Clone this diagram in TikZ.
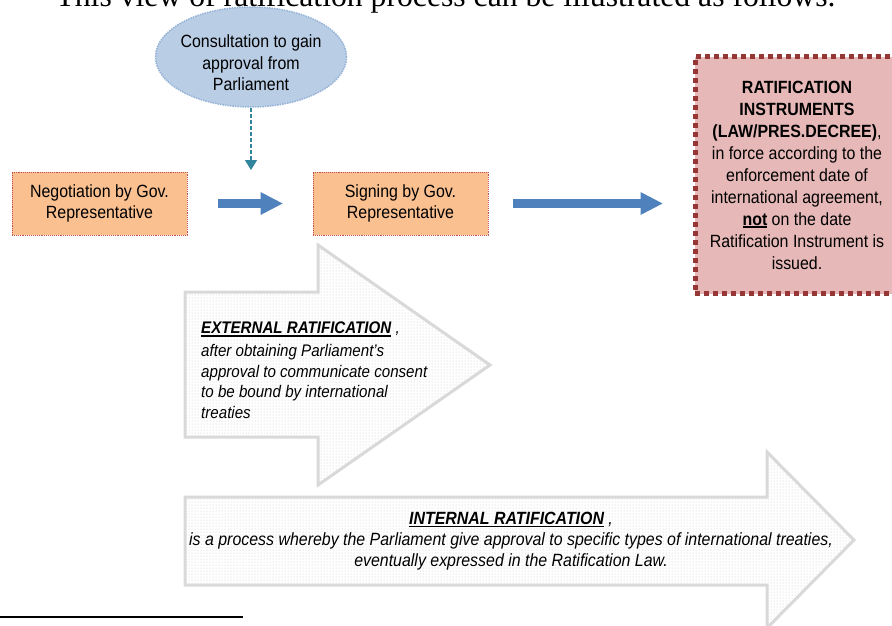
\documentclass[tikz,border=0pt]{standalone}
\usepackage{fontspec}
\setmainfont{Liberation Sans}[FakeStretch=0.9]
\newfontfamily\titlefont{Liberation Serif}
\usetikzlibrary{shapes, arrows.meta, patterns}

\newcommand{\undl}[1]{\leavevmode\setbox0=\hbox{#1}\rlap{\rule[-2.6pt]{\wd0}{1.3pt}}\box0\relax}

\definecolor{consultblue}{HTML}{B9CDE5}
\definecolor{consultedge}{HTML}{95B3D7}
\definecolor{boxorange}{HTML}{FAC090}
\definecolor{boxred}{HTML}{C0504D}
\definecolor{ratiffill}{HTML}{E6B9B8}
\definecolor{ratifedge}{HTML}{953735}
\definecolor{flowblue}{HTML}{4F81BD}
\definecolor{approvalteal}{HTML}{31859C}
\definecolor{arrowgray}{HTML}{D9D9D9}

\tikzstyle{stepbox} = [rectangle, draw=boxred, densely dotted, line width=0.9pt, fill=boxorange, minimum width=175pt, minimum height=63pt, align=center, font=\fontsize{17.7}{21.5}\selectfont]
\tikzstyle{flow} = [draw=flowblue, line width=9pt, -{Triangle[width=23pt,length=22pt,line width=0pt]}]
\tikzstyle{approvalline} = [draw=approvalteal, line width=1.2pt, dash pattern=on 4pt off 2pt, -{Triangle[width=12pt,length=10pt]}]
\tikzstyle{bigarrow} = [draw=arrowgray, line width=3pt, line join=miter, preaction={fill=white}, pattern=dots, pattern color=black!22]

\begin{document}
\begin{tikzpicture}[x=1pt, y=-1pt]
		\useasboundingbox (0,0) rectangle (892,625);
		\clip (0,0) rectangle (892,625);

		\node[anchor=base, font=\titlefont\fontsize{31.7}{36}\selectfont] (title) at (445.5,6) {This view of ratification process can be illustrated as follows.};

		% ratification paths
		\draw[bigarrow] (185,292) -- (318,292) -- (318,245) -- (490,365) -- (318,485) -- (318,437) -- (185,437) -- cycle;
		\draw[bigarrow] (185,497) -- (767,497) -- (767,452) -- (854,540) -- (767,628) -- (767,585) -- (185,585) -- cycle;

		\node[ellipse, draw=consultedge, densely dotted, line width=1.5pt, fill=consultblue, minimum width=191pt, minimum height=100pt] (consult) at (251,57) {};
		\node[align=center, font=\fontsize{17.7}{21.5}\selectfont] (consulttext) at (251,63) {Consultation to gain\\approval from\\Parliament};
		\coordinate (approval) at (251,170);

		\node[stepbox] (neg) at (99.5,203.5) {Negotiation by Gov.\\Representative};
		\node[stepbox] (sign) at (400.5,203.5) {Signing by Gov.\\Representative};
		\node[rectangle, draw=ratifedge, line width=5pt, dash pattern=on 5pt off 4pt, fill=ratiffill, minimum width=204pt, minimum height=237pt, align=center, font=\fontsize{17.7}{22}\selectfont] (ratif) at (797,175)
			{\textbf{RATIFICATION}\\\textbf{INSTRUMENTS}\\\textbf{(LAW/PRES.DECREE)},\\in force according to the\\enforcement date of\\international agreement,\\\undl{\textbf{not}} on the date\\Ratification Instrument is\\issued.};

		\path[flow, shorten <=31pt, shorten >=30pt] (neg) -- (sign);
		\path[flow, shorten <=25pt, shorten >=30pt] (sign.east) -- (sign.east -| ratif.west);
		\path[approvalline] (consult) -- (approval);

		\node[anchor=north west, align=left, font=\itshape\fontsize{16.8}{20.8}\selectfont, inner sep=0pt] (external) at (201,322)
			{\undl{\textbf{EXTERNAL RATIFICATION}} ,\\[1.5pt]after obtaining Parliament’s\\approval to communicate consent\\to be bound by international\\treaties};
		\node[anchor=north, align=center, font=\itshape\fontsize{17.7}{21}\selectfont, inner sep=0pt] (internal) at (511,512)
			{\undl{\textbf{INTERNAL RATIFICATION}} ,\\is a process whereby the Parliament give approval to specific types of international treaties,\\eventually expressed in the Ratification Law.};

		\draw[line width=1.5pt] (0,617) -- (243,617);
	\end{tikzpicture}
\end{document}
